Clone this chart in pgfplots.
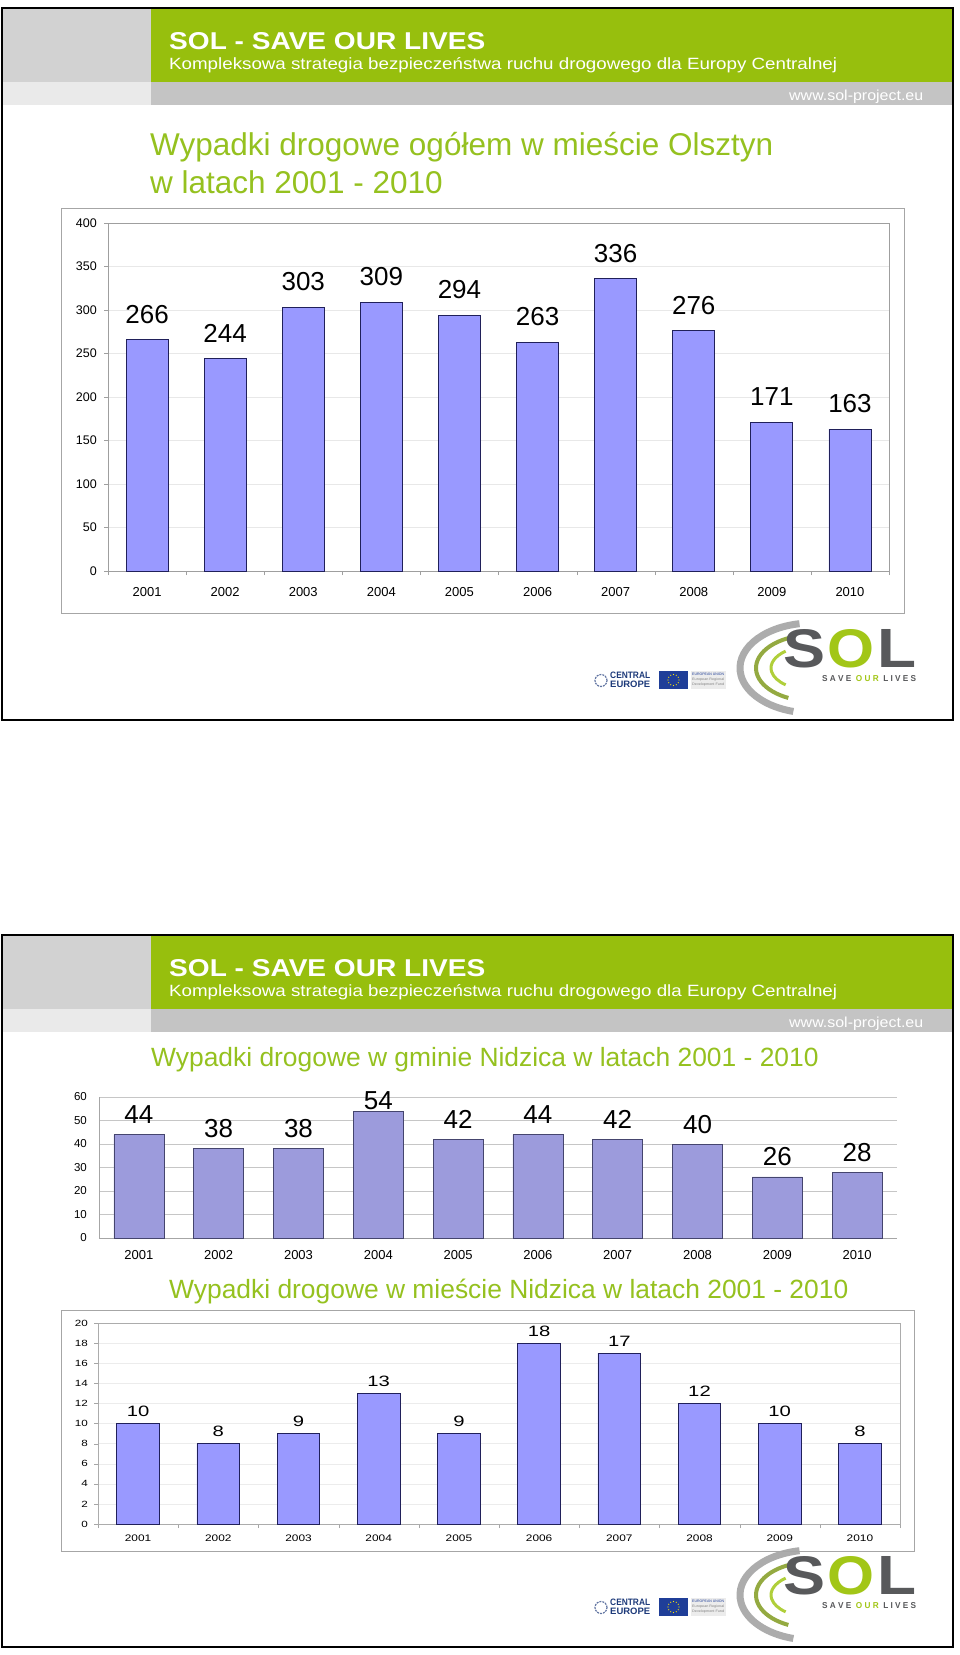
\documentclass[border=0pt]{standalone}
\usepackage{pgfplots}
\pgfplotsset{compat=1.18}
\pgfplotsset{/pgf/number format/assume math mode=true}
\usepackage{fontspec}
\setmainfont{Liberation Sans}
\usepackage{graphicx}
\definecolor{hdrgreen}{HTML}{97BF0D}
\definecolor{ttlgreen}{HTML}{95C11F}
\definecolor{hdrL1}{HTML}{D2D2D2}
\definecolor{hdrL2}{HTML}{EAEAEA}
\definecolor{hdrband}{HTML}{C4C4C4}
\definecolor{barA}{HTML}{9999FF}
\definecolor{barB}{HTML}{9C9BDC}
\definecolor{edgeA}{HTML}{20205A}
\definecolor{edgeB}{HTML}{45456E}
\definecolor{solgray}{HTML}{58595B}
\definecolor{solgreen}{HTML}{A2C617}
\definecolor{eublue}{HTML}{1F3E98}
\definecolor{ceblue}{HTML}{1D3A7A}
\newcommand{\fsz}[1]{\fontsize{#1pt}{#1pt}\selectfont}
\newcommand{\sxa}[1]{\scalebox{1.25}[1]{#1}}

\newcommand{\slidedeco}[1]{%
\begin{scope}[yshift=#1]
 \fill[hdrL1] (3pt,-8pt) rectangle (151pt,-82pt);
 \fill[hdrL2] (3pt,-82pt) rectangle (151pt,-105pt);
 \fill[hdrgreen] (151pt,-8pt) rectangle (953pt,-82pt);
 \fill[hdrband] (151pt,-82pt) rectangle (953pt,-105pt);
 \node[anchor=base west, inner sep=0pt, text=white] at (169pt,-49pt)
   {\resizebox{316pt}{17pt}{\bfseries SOL - SAVE OUR LIVES}};
 \node[anchor=base west, inner sep=0pt, text=white] at (169pt,-69pt)
   {\resizebox{668pt}{12pt}{Kompleksowa strategia bezpieczeństwa ruchu drogowego dla Europy Centralnej}};
 \node[anchor=base west, inner sep=0pt, text=white] at (789pt,-100.5pt)
   {\resizebox{134pt}{10.5pt}{www.sol-project.eu}};
 % SOL logo swoosh
 \draw[gray!65, line width=7pt] (812pt,-668pt) ++(100:72pt and 45pt) arc[start angle=100, end angle=255, x radius=72pt, y radius=45pt];
 \draw[solgreen!60!gray, line width=4pt] (812pt,-668pt) ++(115:56pt and 33pt) arc[start angle=115, end angle=245, x radius=56pt, y radius=33pt];
 \draw[solgreen!85, line width=3pt] (812pt,-668pt) ++(130:41pt and 22pt) arc[start angle=130, end angle=230, x radius=41pt, y radius=22pt];
 \node[anchor=south west, inner sep=0pt] at (783pt,-668pt)
   {\resizebox{42pt}{38pt}{\bfseries\color{solgray}S}};
 \node[anchor=south west, inner sep=0pt] at (827pt,-668pt)
   {\resizebox{47pt}{38pt}{\bfseries\color{solgreen}O}};
 \node[anchor=south west, inner sep=0pt] at (877pt,-668pt)
   {\resizebox{39pt}{38pt}{\bfseries\color{solgray}L}};
 \node[anchor=south west, inner sep=0pt] at (822pt,-682pt)
   {\resizebox{94pt}{6pt}{\bfseries\color{solgray}S A V E\ \ \textcolor{solgreen}{O U R}\ \ L I V E S}};
 % Central Europe logo
 \draw[ceblue!70, line width=1.2pt, dash pattern=on 2pt off 1pt] (601pt,-680.5pt) circle (6pt);
 \node[anchor=south west, inner sep=0pt] at (610pt,-679pt)
   {\resizebox{40pt}{6.5pt}{\bfseries\color{ceblue}CENTRAL}};
 \node[anchor=south west, inner sep=0pt] at (610pt,-688pt)
   {\resizebox{40pt}{6.5pt}{\bfseries\color{ceblue}EUROPE}};
 \fill[eublue] (659pt,-671pt) rectangle (688pt,-689pt);
 \foreach \a in {0,30,...,330} \fill[yellow!90!orange] (673.5pt,-680pt) ++(\a:5.5pt) circle (0.7pt);
 \fill[gray!15] (691pt,-671pt) rectangle (726pt,-689pt);
 \node[anchor=south west, inner sep=0pt] at (692pt,-676pt) {\resizebox{32pt}{2.5pt}{\color{eublue}EUROPEAN UNION}};
 \node[anchor=south west, inner sep=0pt] at (692pt,-681pt) {\resizebox{32pt}{2.5pt}{\color{gray}European Regional}};
 \node[anchor=south west, inner sep=0pt] at (692pt,-686pt) {\resizebox{32pt}{2.5pt}{\color{gray}Development Fund}};
 % frame
 \draw[black, line width=2.5pt] (2pt,-8pt) rectangle (953pt,-720pt);
\end{scope}}

\begin{document}
\begin{tikzpicture}
\fill[white] (0pt,0pt) rectangle (960pt,-1655pt);
\useasboundingbox (0pt,0pt) rectangle (960pt,-1655pt);

\slidedeco{0pt}
\slidedeco{-927pt}

% ---------- Chart 1 ----------
\node[anchor=base west, inner sep=0pt, text=ttlgreen, font=\fsz{31.5}] at (150pt,-155pt) {Wypadki drogowe ogółem w mieście Olsztyn};
\node[anchor=base west, inner sep=0pt, text=ttlgreen, font=\fsz{31.5}] at (150pt,-193pt) {w latach 2001 - 2010};
\draw[gray!70, line width=0.8pt] (61pt,-208pt) rectangle (904pt,-613pt);

\begin{axis}[
 at={(108pt,-571pt)}, anchor=south west, scale only axis,
 width=781pt, height=348pt,
 xmin=-0.5, xmax=9.5, ymin=0, ymax=400, enlargelimits=false,
 axis line style={draw=gray!75},
 xtick={0,...,9}, xticklabels={2001,2002,2003,2004,2005,2006,2007,2008,2009,2010},
 minor xtick={-0.5,0.5,...,9.5},
 ytick={0,50,...,400},
 xtick pos=bottom, ytick pos=left,
 tick align=outside, major tick length=4pt, minor tick length=4pt,
 major x tick style={draw=none},
 minor x tick style={draw=gray!75},
 major y tick style={draw=gray!75},
 ymajorgrids, major grid style={draw=gray!18},
 xticklabel style={font=\fsz{13}, inner sep=0pt, anchor=base, yshift=-21.7pt},
 yticklabel style={font=\fsz{12.5}, inner sep=0pt, anchor=east, xshift=-7pt},
 clip=false,
]
\addplot[ybar, bar width=42pt, bar shift=0pt, fill=barA, draw=edgeA, line width=0.9pt,
 nodes near coords, nodes near coords style={font=\fsz{26}, anchor=base, inner sep=0pt, yshift=16.5pt, text=black}]
 coordinates {(0,266) (1,244) (2,303) (3,309) (4,294) (5,263) (6,336) (7,276) (8,171) (9,163)};
\end{axis}

% ---------- Chart 2 ----------
\node[anchor=base west, inner sep=0pt, text=ttlgreen, font=\fsz{26.4}] at (151pt,-1066.5pt) {Wypadki drogowe w gminie Nidzica w latach 2001 - 2010};

\begin{axis}[
 at={(99pt,-1238pt)}, anchor=south west, scale only axis,
 width=798pt, height=141pt,
 xmin=-0.5, xmax=9.5, ymin=0, ymax=60, enlargelimits=false,
 axis x line*=bottom, axis y line*=left,
 axis line style={draw=gray!70, -},
 xtick={0,...,9}, xticklabels={2001,2002,2003,2004,2005,2006,2007,2008,2009,2010},
 ytick={0,10,...,60},
 major tick length=0pt, tick style={draw=none},
 ymajorgrids, major grid style={draw=gray!45},
 xticklabel style={font=\fsz{13}, inner sep=0pt, anchor=base, yshift=-21.7pt},
 yticklabel style={font=\fsz{11.5}, inner sep=0pt, anchor=east, xshift=-12pt},
 clip=false,
]
\addplot[ybar, bar width=50pt, bar shift=0pt, fill=barB, draw=edgeB, line width=0.8pt,
 nodes near coords, nodes near coords style={font=\fsz{26}, anchor=base, inner sep=0pt, yshift=11pt, text=black}]
 coordinates {(0,44) (1,38) (2,38) (4,42) (5,44) (6,42) (7,40) (8,26) (9,28)};
\addplot[ybar, bar width=50pt, bar shift=0pt, fill=barB, draw=edgeB, line width=0.8pt,
 nodes near coords, nodes near coords style={font=\fsz{26}, anchor=base, inner sep=0pt, yshift=2pt, text=black}]
 coordinates {(3,54)};
\end{axis}

% ---------- Chart 3 ----------
\node[anchor=base west, inner sep=0pt, text=ttlgreen, font=\fsz{26.4}] at (169pt,-1298.5pt) {Wypadki drogowe w mieście Nidzica w latach 2001 - 2010};
\draw[gray!70, line width=0.8pt] (61pt,-1310pt) rectangle (914pt,-1551pt);

\begin{axis}[
 at={(98pt,-1524pt)}, anchor=south west, scale only axis,
 width=802pt, height=201pt,
 xmin=-0.5, xmax=9.5, ymin=0, ymax=20, enlargelimits=false,
 axis line style={draw=gray!65},
 xtick={0,...,9}, xticklabels={\sxa{2001},\sxa{2002},\sxa{2003},\sxa{2004},\sxa{2005},\sxa{2006},\sxa{2007},\sxa{2008},\sxa{2009},\sxa{2010}},
 minor xtick={-0.5,0.5,...,9.5},
 ytick={0,2,...,20},
 yticklabel={\scalebox{1.3}[1]{\pgfmathprintnumber{\tick}}},
 xtick pos=bottom, ytick pos=left,
 tick align=outside, major tick length=4pt, minor tick length=4pt,
 major x tick style={draw=none},
 minor x tick style={draw=gray!70},
 major y tick style={draw=gray!70},
 ymajorgrids, major grid style={draw=gray!15},
 xticklabel style={font=\fsz{9.5}, inner sep=0pt, anchor=base, yshift=-13pt},
 yticklabel style={font=\fsz{9}, inner sep=0pt, anchor=east, xshift=-6pt},
 clip=false,
]
\addplot[ybar, bar width=42.7pt, bar shift=0pt, fill=barA, draw=edgeA, line width=0.9pt,
 nodes near coords={\scalebox{1.35}[1]{\pgfmathprintnumber{\pgfplotspointmeta}}},
 nodes near coords style={font=\fsz{15}, anchor=base, inner sep=0pt, yshift=7pt, text=black}]
 coordinates {(0,10) (1,8) (2,9) (3,13) (4,9) (5,18) (6,17) (7,12) (8,10) (9,8)};
\end{axis}
\end{tikzpicture}
\end{document}
